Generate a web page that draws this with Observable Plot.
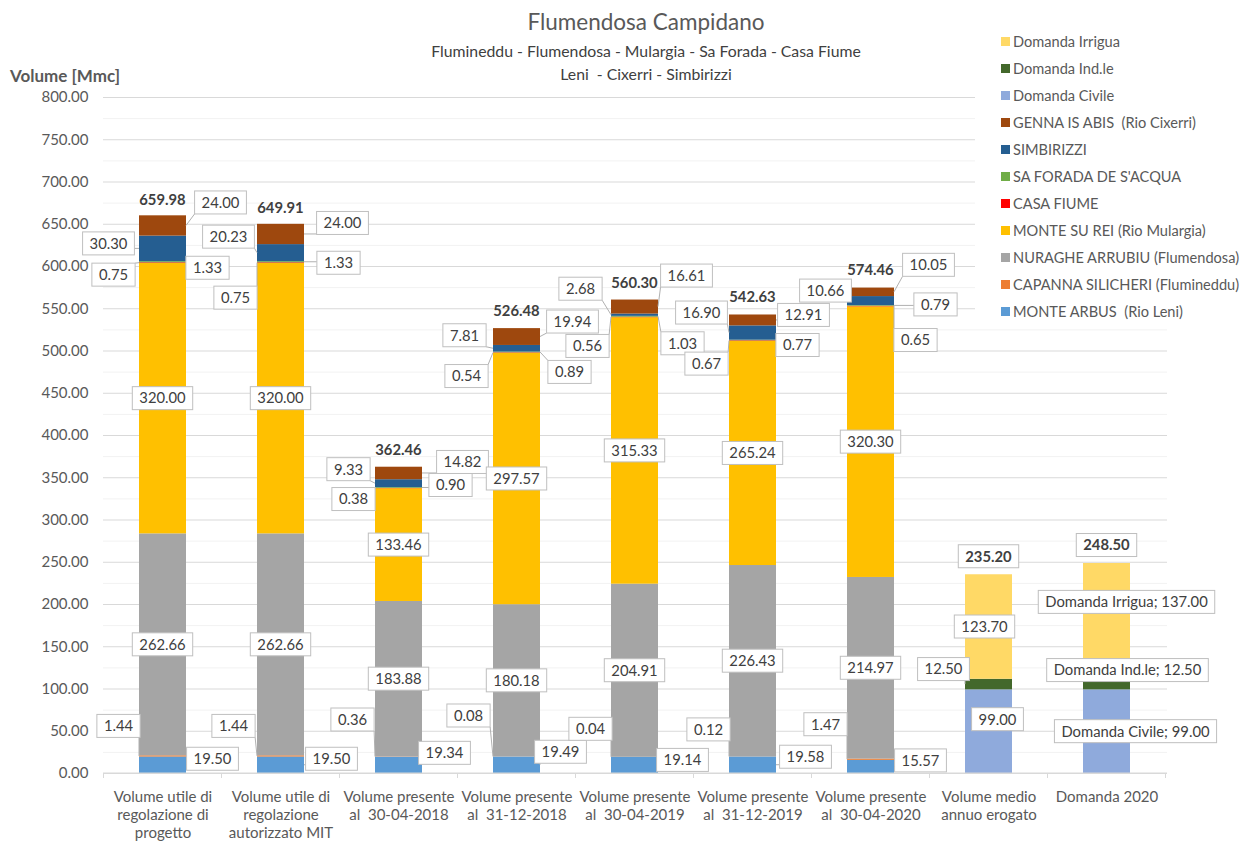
<!DOCTYPE html>
<html><head><meta charset="utf-8">
<script src="https://cdn.jsdelivr.net/npm/d3@7"></script>
<script src="https://cdn.jsdelivr.net/npm/@observablehq/plot@0.6"></script>
<style>
body{margin:0;background:#fff;}
#wrap{position:relative;width:1242px;height:841px;overflow:hidden;font-family:Lato,"Open Sans",sans-serif;color:#595959;}
#wrap svg{position:absolute;left:0;top:0;}
#wrap svg text{white-space:pre;}
.ov{position:absolute;white-space:nowrap;}
#title{left:0;width:1292px;text-align:center;top:8px;font-size:22.5px;color:#595959;}
#sub{left:0;width:1292px;text-align:center;top:39px;font-size:15.8px;line-height:23px;color:#404040;}
#ylab{left:10px;top:65px;font-size:17px;font-weight:bold;color:#595959;}
#legend{left:975px;top:28px;width:267px;height:294px;background:#fff;}
.li{position:absolute;left:38px;height:20px;font-size:14.6px;line-height:20px;color:#595959;white-space:pre;}
.sw{position:absolute;left:-12px;top:5px;width:9px;height:9px;}
</style></head><body><div id="wrap">
<div id="title" class="ov">Flumendosa Campidano</div>
<div id="sub" class="ov">Flumineddu - Flumendosa - Mulargia - Sa Forada - Casa Fiume<br>Leni &nbsp;- Cixerri - Simbirizzi</div>
<div id="ylab" class="ov">Volume [Mmc]</div>
</div>
<script>
// ---------- DATA ----------
const categories = [
  "Volume utile di\nregolazione di\nprogetto",
  "Volume utile di\nregolazione\nautorizzato MIT",
  "Volume presente\nal  30-04-2018",
  "Volume presente\nal  31-12-2018",
  "Volume presente\nal  30-04-2019",
  "Volume presente\nal  31-12-2019",
  "Volume presente\nal  30-04-2020",
  "Volume medio\nannuo erogato",
  "Domanda 2020"
];
const monteArbus       = [19.50, 19.50, 19.34, 19.49, 19.14, 19.58, 15.57, null, null];
const capannaSilicheri = [1.44, 1.44, 0.36, 0.08, 0.04, 0.12, 1.47, null, null];
const nuragheArrubiu   = [262.66, 262.66, 183.88, 180.18, 204.91, 226.43, 214.97, null, null];
const monteSuRei       = [320.00, 320.00, 133.46, 297.57, 315.33, 265.24, 320.30, null, null];
const casaFiume        = [0.75, 0.75, 0.38, 0.54, 0.56, 0.67, 0.65, null, null];
const saForada         = [1.33, 1.33, 0.90, 0.89, 1.03, 0.77, 0.79, null, null];
const simbirizzi       = [30.30, 20.23, 9.33, 7.81, 2.68, 16.90, 10.66, null, null];
const gennaIsAbis      = [24.00, 24.00, 14.82, 19.94, 16.61, 12.91, 10.05, null, null];
const domandaCivile    = [null, null, null, null, null, null, null, 99.00, 99.00];
const domandaIndle     = [null, null, null, null, null, null, null, 12.50, 12.50];
const domandaIrrigua   = [null, null, null, null, null, null, null, 123.70, 137.00];
const totals           = [659.98, 649.91, 362.46, 526.48, 560.30, 542.63, 574.46, 235.20, 248.50];

// bottom -> top stacking order
const seriesNames = [
  "MONTE ARBUS  (Rio Leni)",
  "CAPANNA SILICHERI (Flumineddu)",
  "NURAGHE ARRUBIU (Flumendosa)",
  "MONTE SU REI (Rio Mulargia)",
  "CASA FIUME",
  "SA FORADA DE S'ACQUA",
  "SIMBIRIZZI",
  "GENNA IS ABIS  (Rio Cixerri)",
  "Domanda Civile",
  "Domanda Ind.le",
  "Domanda Irrigua"
];
const seriesValues = [monteArbus, capannaSilicheri, nuragheArrubiu, monteSuRei, casaFiume,
  saForada, simbirizzi, gennaIsAbis, domandaCivile, domandaIndle, domandaIrrigua];
const seriesColors = ["#5B9BD5", "#ED7D31", "#A5A5A5", "#FFC000", "#FF0000", "#70AD47",
  "#255E91", "#9E480E", "#8FAADC", "#43682B", "#FFD966"];
const yTicks = [0, 50, 100, 150, 200, 250, 300, 350, 400, 450, 500, 550, 600, 650, 700, 750, 800];
const yMinorTicks = [25, 75, 125, 175, 225, 275, 325, 375, 425, 475, 525, 575, 625, 675, 725, 775];

// ---------- LABEL LAYOUT (pixel offsets of each data-label box from its segment middle) ----------
const C = [0, 0];
const labelOffsets = [
  [[50,-6],[51,-6],[46,-12],[44,-13],[48,-5],[53,-8],[50,-6]],
  [[-44,-30],[-47,-30],[-46,-37],[-48,-41],[-44,-28],[-44,-27],[-45,-35]],
  [C,C,C,C,C,C,C],
  [C,C,C,C,C,C,C],
  [[-49,12],[-45,35],[-45,11],[-50,23.5],[-47,29],[-46,23],[45,34]],
  [[45,6],[58,1],[52,-2.5],[53,20],[48,27],[45,5],[65,-1]],
  [[-54,-5],[-52,-16],[-50,-14],[-52,-13],[-54,-26],[-51,-20],[-45,-10]],
  [[58,-23],[62,-11],[64,-11],[56,-15],[52,-31],[51,-5],[58,-27]],
  [null,null,null,null,null,null,null,[9,-12],[29,0]],
  [null,null,null,null,null,null,null,[-45,-15],[21,-14]],
  [null,null,null,null,null,null,null,[-4,0],[20,-19]]
];
const totalOffsetY = [-16,-16,-17,-17,-16.5,-17.5,-17.5,-18,-18];

// ---------- BUILD ----------
const rows = [];
seriesValues.forEach((vals, si) => vals.forEach((v, ci) => {
  if (v != null) rows.push({cat: categories[ci], series: seriesNames[si], value: v, si, ci});
}));

const chart = Plot.plot({
  width: 1242, height: 841,
  marginLeft: 103, marginRight: 75, marginTop: 97, marginBottom: 68,
  style: {fontFamily: "Lato, 'Open Sans', sans-serif", fontSize: "15px", color: "#595959", background: "transparent"},
  x: {domain: categories, paddingInner: 0.6, paddingOuter: 0.3, axis: null},
  y: {domain: [0, 800], axis: null},
  color: {domain: seriesNames, range: seriesColors},
  marks: [
    Plot.ruleY(yMinorTicks, {stroke: "#f2f2f2"}),
    Plot.ruleY(yTicks, {stroke: "#d9d9d9"}),
    Plot.barY(rows, {x: "cat", y: "value", fill: "series"}),
    Plot.axisY(yTicks, {tickSize: 0, tickPadding: 15, tickFormat: d => d.toFixed(2), label: null, fontSize: 15}),
    Plot.axisX({tickSize: 0, tickPadding: 16, label: null, lineHeight: 1.2, fontSize: 15})
  ]
});
const wrap = document.getElementById("wrap");
wrap.insertBefore(chart, wrap.firstChild);

// ---------- Data labels, leaders, boundary ticks (positioned with Plot's scales) ----------
const sx = chart.scale("x"), sy = chart.scale("y");
const bw = sx.bandwidth, step = sx.step;
const svg = d3.select(chart);
const gTicks = svg.append("g").attr("stroke", "#d9d9d9");
categories.forEach((c, i) => {
  const b = sx.apply(c) - (step - bw) / 2;
  gTicks.append("line").attr("x1", b).attr("x2", b).attr("y1", sy.apply(0)).attr("y2", sy.apply(0) + 5);
  if (i === categories.length - 1) {
    const e = b + step;
    gTicks.append("line").attr("x1", e).attr("x2", e).attr("y1", sy.apply(0)).attr("y2", sy.apply(0) + 5);
  }
});

const labels = [];
categories.forEach((cat, ci) => {
  const xc = sx.apply(cat) + bw / 2;
  let cum = 0;
  seriesValues.forEach((vals, si) => {
    const v = vals[ci];
    if (v == null) return;
    const mid = cum + v / 2; cum += v;
    const off = labelOffsets[si][ci] || [0, 0];
    const yc = sy.apply(mid);
    const lab = {text: ci === 8 ? `${seriesNames[si]}; ${v.toFixed(2)}` : v.toFixed(2),
      cx: xc + off[0], cy: yc + off[1], box: true, bold: false};
    if (Math.abs(off[0]) > 30) { lab.ax = xc + Math.sign(off[0]) * bw / 2; lab.ay = yc; }
    labels.push(lab);
  });
  labels.push({text: totals[ci].toFixed(2), cx: xc, cy: sy.apply(totals[ci]) + totalOffsetY[ci], box: ci >= 7, bold: true});
});

const gLines = svg.append("g").attr("stroke", "#b0b0b0").attr("fill", "none");
const gBoxes = svg.append("g").attr("stroke", "#bfbfbf").attr("fill", "#fff");
const gText = svg.append("g").attr("font-family", "Lato, 'Open Sans', sans-serif").attr("font-size", 14.8).attr("fill", "#404040").attr("text-anchor", "middle");
labels.forEach(l => {
  const t = gText.append("text").attr("x", l.cx).attr("y", l.cy).attr("dy", "0.36em").text(l.text);
  if (l.bold) t.attr("font-weight", "bold");
  const w = t.node().getComputedTextLength();
  const bx0 = l.cx - w / 2 - 7, bx1 = l.cx + w / 2 + 7, by0 = l.cy - 11.5, by1 = l.cy + 11.5;
  if (l.box) gBoxes.append("rect").attr("x", bx0).attr("y", by0).attr("width", bx1 - bx0).attr("height", by1 - by0);
  if (l.ax != null && (l.ax < bx0 || l.ax > bx1 || l.ay < by0 || l.ay > by1)) {
    const px = Math.max(bx0, Math.min(bx1, l.ax)), py = Math.max(by0, Math.min(by1, l.ay));
    gLines.append("line").attr("x1", px).attr("y1", py).attr("x2", l.ax).attr("y2", l.ay);
  }
});
svg.append("line").attr("x1", sx.range ? sx.range[0] : 103).attr("x2", sx.range ? sx.range[1] : 1167)
  .attr("y1", sy.apply(0)).attr("y2", sy.apply(0)).attr("stroke", "#d9d9d9");

// ---------- Legend ----------
const legend = document.createElement("div");
legend.id = "legend"; legend.className = "ov";
const order = [10, 9, 8, 7, 6, 5, 4, 3, 2, 1, 0];
order.forEach((si, k) => {
  const it = document.createElement("div");
  it.className = "li";
  it.style.top = (42 + 27 * k - 28 - 10) + "px";
  it.innerHTML = `<span class="sw" style="background:${seriesColors[si]}"></span>`;
  it.appendChild(document.createTextNode(seriesNames[si]));
  legend.appendChild(it);
});
wrap.appendChild(legend);
</script></body></html>
